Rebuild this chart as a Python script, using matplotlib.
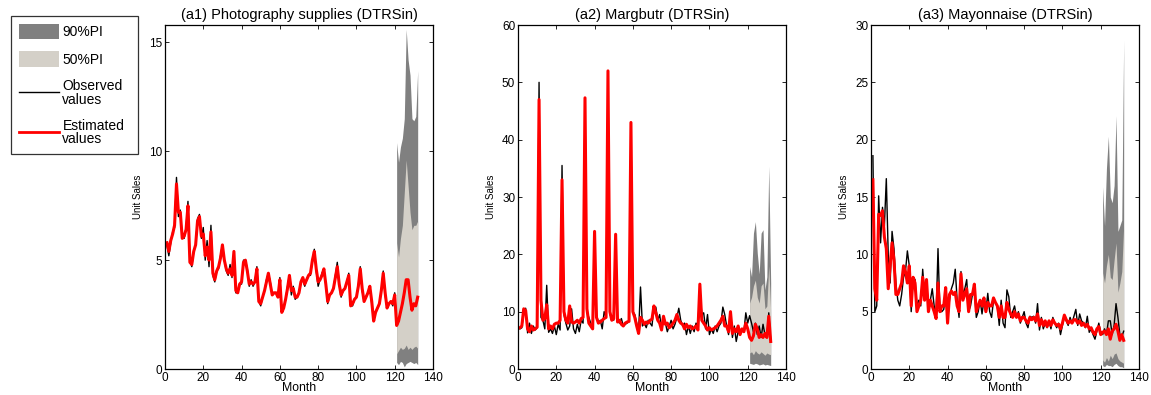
import numpy as np
import matplotlib
matplotlib.use("Agg")
from matplotlib import pyplot as plt
from matplotlib.patches import Patch
from matplotlib.lines import Line2D

plt.rcParams['font.family'] = ['Liberation Sans', 'DejaVu Sans']

months = np.arange(1, 133)
fc_months = np.arange(121, 133)

# (a1) Photography supplies
obs1 = [5.7, 5.2, 5.8, 6.3, 6.5, 8.8, 7.0, 7.3, 6.0, 6.0, 6.5, 7.7,
        5.0, 4.7, 5.4, 5.7, 6.9, 7.1, 6.0, 6.5, 5.0, 5.9, 4.7, 6.6,
        4.3, 4.0, 4.5, 4.6, 5.2, 5.7, 5.0, 4.5, 4.3, 4.8, 4.2, 5.4,
        3.5, 3.5, 3.9, 3.9, 5.0, 5.0, 4.6, 3.8, 4.1, 3.8, 4.0, 4.7,
        3.1, 2.9, 3.3, 3.6, 4.1, 4.4, 4.0, 3.4, 3.5, 3.5, 3.3, 4.2,
        2.6, 2.8, 3.2, 3.8, 4.3, 3.4, 3.8, 3.2, 3.3, 3.5, 4.0, 4.1,
        3.8, 4.1, 4.3, 4.3, 5.0, 5.5, 4.5, 3.8, 4.1, 4.4, 4.6, 3.9,
        3.0, 3.4, 3.5, 3.7, 4.3, 4.9, 3.9, 3.3, 3.6, 3.7, 4.0, 4.4,
        2.9, 2.9, 3.2, 3.3, 3.8, 4.7, 3.6, 3.1, 3.3, 3.5, 3.8, 3.0,
        2.2, 2.6, 2.8, 3.0, 3.6, 4.5, 3.4, 2.8, 3.0, 3.1, 2.9, 3.5,
        2.0, 2.2, 2.6, 3.0, 3.5, 4.1, 4.1, 3.3, 2.7, 3.0, 2.9, 3.3]
est1 = [5.8, 5.4, 5.9, 6.2, 6.6, 8.5, 7.2, 7.2, 6.0, 6.1, 6.4, 7.5,
        4.9, 4.8, 5.4, 5.7, 6.8, 7.0, 6.1, 6.2, 5.2, 5.6, 5.0, 6.3,
        4.4, 4.1, 4.5, 4.7, 5.1, 5.7, 5.0, 4.6, 4.4, 4.6, 4.3, 5.4,
        3.6, 3.5, 3.9, 4.0, 4.9, 5.0, 4.5, 3.9, 4.0, 3.9, 4.0, 4.6,
        3.1, 3.0, 3.3, 3.6, 4.0, 4.4, 3.9, 3.4, 3.5, 3.5, 3.3, 4.1,
        2.6, 2.8, 3.2, 3.7, 4.3, 3.6, 3.7, 3.3, 3.3, 3.5, 4.0, 4.2,
        3.9, 4.1, 4.3, 4.4, 5.0, 5.4, 4.6, 4.0, 4.1, 4.3, 4.6, 3.9,
        3.1, 3.4, 3.5, 3.7, 4.2, 4.7, 3.9, 3.4, 3.6, 3.7, 4.0, 4.3,
        2.9, 3.0, 3.2, 3.3, 3.8, 4.6, 3.7, 3.1, 3.3, 3.5, 3.8, 3.1,
        2.2, 2.6, 2.8, 3.0, 3.6, 4.4, 3.5, 2.8, 3.0, 3.1, 3.0, 3.4,
        2.0, 2.2, 2.6, 3.0, 3.5, 4.1, 4.1, 3.3, 2.7, 3.0, 2.9, 3.3]
up90_1 = [10.4, 9.5, 10.2, 10.6, 11.5, 15.6, 14.2, 13.5, 11.5, 11.4, 11.6, 13.7]
up50_1 = [5.8, 5.15, 6.0, 6.6, 8.1, 9.6, 8.4, 7.2, 6.4, 6.6, 6.6, 6.8]
lo50_1 = [0.7, 0.85, 1.0, 0.9, 0.95, 1.1, 0.9, 1.0, 0.9, 1.0, 1.05, 0.95]
lo90_1 = [0.3, 0.2, 0.35, 0.3, 0.1, 0.25, 0.3, 0.35, 0.3, 0.25, 0.3, 0.2]

# (a2) Margbutr
obs2 = [7.0, 7.2, 10.0, 10.6, 6.3, 8.0, 6.2, 7.5, 6.8, 7.2, 50.0, 9.0,
        8.5, 7.0, 14.6, 6.4, 7.0, 6.2, 7.5, 6.0, 7.8, 6.8, 35.5, 9.5,
        8.0, 6.8, 7.5, 10.5, 7.0, 6.2, 7.8, 6.5, 8.5, 8.0, 47.0, 10.0,
        9.0, 8.0, 7.0, 22.0, 9.5, 8.0, 8.5, 7.0, 10.0, 9.0, 52.0, 9.5,
        9.0, 8.5, 23.0, 8.5, 8.0, 8.8, 7.5, 7.8, 8.0, 8.5, 43.0, 10.0,
        9.5, 8.0, 6.5, 14.3, 7.5, 8.0, 7.2, 8.5, 8.0, 7.5, 11.0, 10.8,
        8.5, 9.5, 7.0, 8.5, 8.0, 6.5, 7.5, 8.5, 7.0, 7.8, 9.0, 10.6,
        8.5, 7.5, 8.0, 6.0, 7.5, 6.2, 7.5, 6.5, 8.0, 7.5, 14.0, 9.5,
        9.8, 7.0, 9.5, 6.0, 7.0, 6.2, 7.5, 6.5, 7.5, 8.0, 10.8, 9.5,
        7.5, 6.0, 9.5, 5.5, 7.5, 4.8, 6.5, 6.0, 7.0, 6.5, 9.8, 8.0,
        9.3, 8.0, 6.5, 8.0, 6.0, 7.5, 5.5, 7.8, 6.0, 5.5, 9.8, 5.0]
est2 = [7.2, 7.5, 10.5, 10.2, 7.0, 6.5, 7.5, 6.8, 7.0, 7.3, 47.0, 12.0,
        8.5, 8.8, 11.2, 7.0, 7.5, 7.0, 7.8, 8.0, 8.0, 8.5, 33.0, 10.0,
        8.5, 8.0, 11.0, 8.2, 8.0, 8.2, 8.5, 8.0, 8.8, 9.0, 47.3, 10.5,
        8.0, 7.5, 7.0, 24.0, 9.0, 8.0, 8.2, 8.5, 8.8, 9.0, 52.0, 10.0,
        8.5, 8.8, 23.5, 8.2, 8.5, 7.8, 7.5, 8.0, 8.2, 8.3, 43.0, 10.0,
        9.0, 7.5, 6.2, 9.0, 8.5, 7.8, 8.2, 8.0, 8.5, 8.7, 11.0, 9.8,
        8.5, 8.0, 6.8, 9.2, 7.8, 8.0, 7.2, 7.5, 8.0, 8.5, 9.5, 8.5,
        8.0, 7.8, 7.0, 7.8, 7.2, 7.5, 7.0, 7.2, 7.5, 6.8, 14.8, 8.5,
        8.0, 7.5, 6.8, 7.2, 6.8, 7.0, 7.2, 7.5, 8.0, 8.5, 9.2, 7.5,
        7.5, 6.5, 10.0, 6.2, 7.0, 6.5, 7.5, 6.0, 7.0, 6.5, 8.0, 7.0,
        5.5, 5.0, 5.8, 7.8, 7.0, 5.5, 6.0, 5.5, 6.2, 5.5, 9.2, 4.8]
up90_2 = [17.9, 16.1, 23.7, 25.7, 20.2, 16.6, 23.7, 24.3, 13.8, 16.1, 35.4, 15.0]
up50_2 = [11.5, 12.5, 14.5, 15.5, 12.5, 11.5, 14.5, 15.0, 10.5, 11.0, 18.0, 10.0]
lo50_2 = [2.8, 3.0, 2.5, 3.2, 2.8, 2.6, 3.0, 2.7, 2.4, 2.8, 2.6, 2.5]
lo90_2 = [1.0, 0.9, 0.8, 1.0, 0.9, 0.7, 0.8, 0.9, 0.7, 0.8, 0.7, 0.6]

# (a3) Mayonnaise
obs3 = [18.6, 5.0, 5.5, 15.1, 11.0, 14.1, 12.5, 16.6, 10.0, 7.5, 12.0, 10.5,
        7.5, 6.0, 5.5, 6.5, 8.0, 8.5, 10.3, 9.0, 5.0, 8.0, 7.8, 5.5,
        6.0, 5.5, 8.7, 6.5, 7.5, 5.5, 6.0, 7.0, 5.5, 4.5, 10.5, 5.0,
        5.0, 5.2, 6.5, 4.2, 6.0, 7.0, 7.5, 8.7, 6.0, 4.5, 8.5, 6.5,
        7.0, 7.8, 5.0, 5.5, 6.5, 7.0, 4.5, 5.0, 6.0, 4.8, 6.0, 5.0,
        6.6, 5.0, 4.5, 6.0, 5.8, 5.5, 3.8, 6.0, 4.0, 3.6, 6.9, 6.3,
        4.5, 5.0, 5.5, 4.5, 5.0, 4.0, 4.5, 5.0, 4.0, 3.6, 4.6, 4.5,
        4.6, 4.0, 5.7, 3.4, 4.5, 3.5, 4.0, 3.6, 4.2, 3.5, 4.5, 4.0,
        3.6, 4.0, 3.0, 3.8, 4.6, 4.2, 3.8, 4.5, 4.0, 4.6, 5.2, 3.8,
        4.8, 4.2, 4.0, 3.6, 4.6, 3.2, 3.5, 3.0, 2.6, 3.3, 4.0, 3.2,
        3.0, 3.5, 3.0, 4.2, 4.2, 3.0, 3.8, 5.7, 4.5, 3.0, 2.8, 3.3]
est3 = [16.5, 7.0, 6.0, 13.5, 13.4, 13.8, 11.5, 10.5, 7.0, 9.0, 11.0, 9.5,
        6.5, 6.5, 7.0, 7.5, 9.0, 8.5, 7.5, 9.0, 5.5, 8.0, 7.5, 5.0,
        5.5, 6.0, 8.0, 6.0, 7.8, 5.0, 6.0, 5.5, 5.0, 4.4, 7.5, 5.0,
        5.5, 5.5, 7.1, 4.0, 6.5, 6.8, 6.5, 6.7, 5.5, 5.0, 8.3, 6.0,
        6.5, 7.0, 5.0, 6.5, 6.5, 7.4, 5.0, 5.5, 6.0, 5.5, 6.2, 5.0,
        5.8, 5.5, 5.5, 6.2, 5.8, 5.5, 4.5, 5.5, 4.5, 4.5, 5.8, 5.2,
        4.8, 4.5, 5.0, 4.5, 4.8, 4.2, 4.5, 4.5, 4.2, 4.0, 4.5, 4.3,
        4.5, 4.2, 4.8, 3.8, 4.3, 3.8, 4.2, 3.7, 4.2, 3.8, 4.3, 4.0,
        3.8, 3.9, 3.5, 4.0, 4.7, 4.3, 4.0, 4.2, 4.0, 4.3, 4.3, 4.0,
        4.2, 3.8, 4.0, 3.7, 3.9, 3.5, 3.6, 3.2, 3.0, 3.5, 3.7, 3.0,
        3.2, 3.3, 3.0, 3.5, 2.6, 3.3, 3.5, 3.9, 3.3, 2.5, 3.0, 2.5]
up90_3 = [15.9, 12.5, 17.5, 20.3, 15.0, 14.5, 16.0, 22.1, 12.0, 12.5, 13.0, 28.7]
up50_3 = [8.4, 7.5, 9.0, 10.0, 8.0, 7.8, 9.5, 11.0, 6.7, 7.5, 8.5, 12.5]
lo50_3 = [0.8, 0.6, 1.0, 0.7, 1.2, 0.9, 1.3, 1.4, 0.9, 0.7, 0.6, 0.5]
lo90_3 = [0.3, 0.2, 0.4, 0.3, 0.3, 0.2, 0.4, 0.5, 0.3, 0.2, 0.2, 0.1]

panels = [
    ("(a1) Photography supplies (DTRSin)", obs1, est1, up90_1, up50_1, lo50_1, lo90_1, 15.8, 5),
    ("(a2) Margbutr (DTRSin)", obs2, est2, up90_2, up50_2, lo50_2, lo90_2, 60, 10),
    ("(a3) Mayonnaise (DTRSin)", obs3, est3, up90_3, up50_3, lo50_3, lo90_3, 30, 5),
]

dark = '#808080'
light = '#d4d0c8'

fig = plt.figure(figsize=(11.51, 3.95), dpi=100)
lefts = [165, 518, 871]
for left, (title, obs, est, u90, u50, l50, l90, ytop, ystep) in zip(lefts, panels):
    ax = fig.add_axes([left / 1151, 1 - 369 / 395, 268 / 1151, 344 / 395])
    ax.fill_between(fc_months, l90, u90, color=dark, linewidth=0)
    ax.fill_between(fc_months, l50, u50, color=light, linewidth=0)
    ax.plot(months, obs, color='black', linewidth=1.0)
    ax.plot(months, est, color='red', linewidth=2.2)
    ax.set_xlim(0, 140)
    ax.set_ylim(0, ytop)
    ax.set_xticks(np.arange(0, 141, 20))
    ax.set_yticks(np.arange(0, ytop + 0.01, ystep))
    ax.tick_params(direction='in', top=True, right=True, labelsize=8.5,
                   length=3, width=0.6, pad=2)
    for s in ax.spines.values():
        s.set_linewidth(0.9)
    ax.set_title(title, fontsize=10.5, pad=4)
    ax.set_xlabel("Month", fontsize=8.8, labelpad=-1)
    ax.set_ylabel("Unit Sales", fontsize=7, labelpad=4,
                  family=['Liberation Sans Narrow', 'Liberation Sans'])

handles = [Patch(facecolor=dark, edgecolor='none'),
           Patch(facecolor=light, edgecolor='none'),
           Line2D([], [], color='black', linewidth=1.0),
           Line2D([], [], color='red', linewidth=2.0)]
labels = ["90%PI", "50%PI", "Observed\nvalues", "Estimated\nvalues"]
leg = fig.legend(handles, labels, loc='upper left',
                 bbox_to_anchor=(11 / 1151, 1 - 156 / 395, 127 / 1151, 140 / 395),
                 mode='expand',
                 fontsize=10, frameon=True, fancybox=False, edgecolor='black',
                 handlelength=2.9, handleheight=1.3, handletextpad=0.25,
                 labelspacing=0.9, borderpad=0.55, borderaxespad=0)
for t in leg.get_texts():
    t.set_linespacing(0.95)
leg.get_frame().set_linewidth(0.9)

fig.savefig("out.png", dpi=100)
